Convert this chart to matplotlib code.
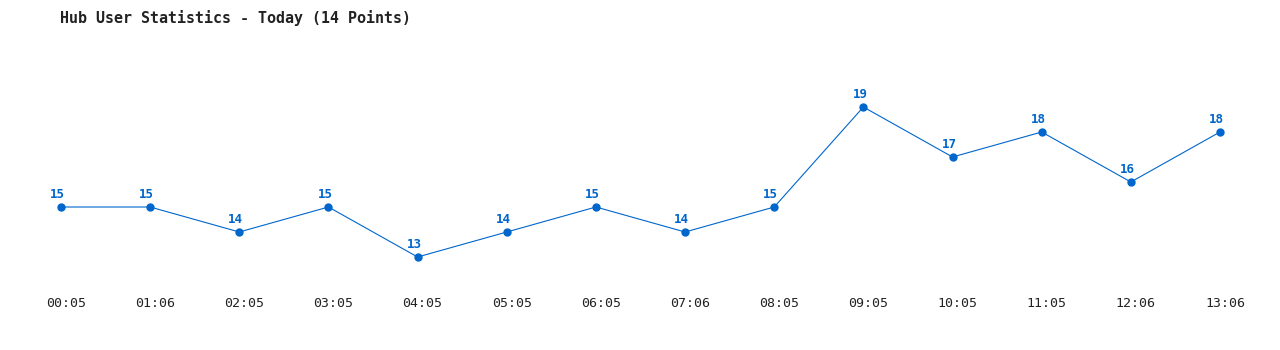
import matplotlib
matplotlib.use("Agg")
import matplotlib.pyplot as plt
import matplotlib.transforms as mtransforms

# Data
times = ["00:05", "01:06", "02:05", "03:05", "04:05", "05:05", "06:05",
         "07:06", "08:05", "09:05", "10:05", "11:05", "12:06", "13:06"]
users = [15, 15, 14, 15, 13, 14, 15, 14, 15, 19, 17, 18, 16, 18]

blue = "#0066cc"
mono = "DejaVu Sans Mono"

fig = plt.figure(figsize=(12.8, 3.5), dpi=100)
# axes spans pixel rows 40..290 of the 350 px figure
ax = fig.add_axes([0, 60 / 350, 1, 250 / 350])

x = list(range(len(users)))
ax.plot(x, users, color=blue, linewidth=0.8, marker="o", markersize=5)

# value labels sit slightly left of each point, like the original
for xi, v in zip(x, users):
    ax.annotate(str(v), (xi, v), xytext=(-2.5, 4), textcoords="offset points",
                ha="center", va="bottom", color=blue, fontsize=9,
                fontweight="bold", family=mono)

ax.set_xlim(-0.684, 13.673)
ax.set_ylim(11.68, 21.68)
ax.set_xticks(x)
ax.set_xticklabels(times, family=mono, fontsize=9.5, color="#222222")
ax.tick_params(axis="x", length=0, pad=5)
# tick labels sit a few pixels right of the points in the original
shift = mtransforms.ScaledTranslation(5 / 100, 0, fig.dpi_scale_trans)
for lbl in ax.get_xticklabels():
    lbl.set_transform(lbl.get_transform() + shift)
ax.set_yticks([])
for s in ax.spines.values():
    s.set_visible(False)

fig.text(60 / 1280, 1 - 18 / 350, "Hub User Statistics - Today (14 Points)",
         family=mono, fontsize=10.8, fontweight="bold", color="#222222",
         ha="left", va="center")

fig.savefig("out.png", dpi=100)
